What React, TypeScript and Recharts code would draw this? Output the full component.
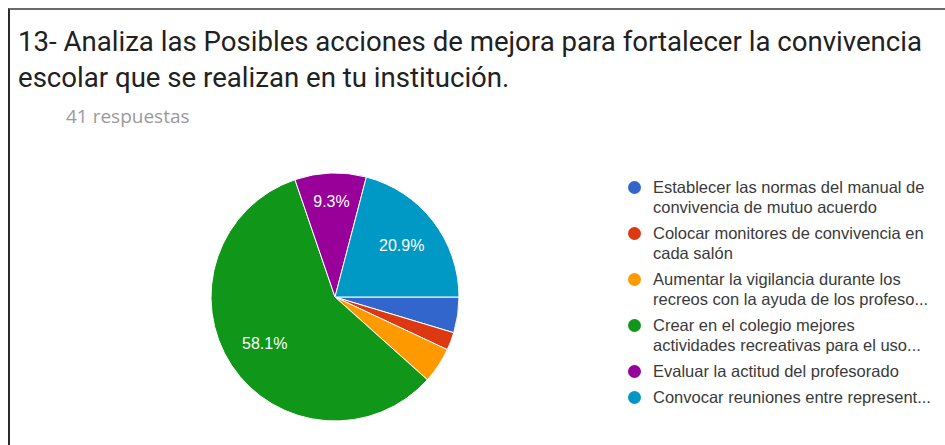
import { PieChart, Pie, Cell, Legend } from 'recharts';

const TITLE_LINES = [
  '13- Analiza las Posibles acciones de mejora para fortalecer la convivencia',
  'escolar que se realizan en tu institución.',
];
const RESPONSES = '41 respuestas';

const categories = [
  'Establecer las normas del manual de convivencia de mutuo acuerdo',
  'Colocar monitores de convivencia en cada salón',
  'Aumentar la vigilancia durante los recreos con la ayuda de los profeso...',
  'Crear en el colegio mejores actividades recreativas para el uso...',
  'Evaluar la actitud del profesorado',
  'Convocar reuniones entre represent...',
];
// legend text as shown (already wrapped/truncated)
const legendLines = [
  ['Establecer las normas del manual de', 'convivencia de mutuo acuerdo'],
  ['Colocar monitores de convivencia en', 'cada salón'],
  ['Aumentar la vigilancia durante los', 'recreos con la ayuda de los profeso...'],
  ['Crear en el colegio mejores', 'actividades recreativas para el uso...'],
  ['Evaluar la actitud del profesorado'],
  ['Convocar reuniones entre represent...'],
];
const counts = [2, 1, 2, 25, 4, 9];

const COLORS = ['#3366cc', '#dc3912', '#ff9900', '#109618', '#990099', '#0099c6'];

const data = categories.map((name, i) => ({ name, value: counts[i] }));

const RAD = Math.PI / 180;

function renderLabel(props: any) {
  const { cx, cy, midAngle, outerRadius, percent } = props;
  if (percent < 0.05) return null;
  const d = outerRadius * (percent > 0.15 ? 0.68 : 0.77);
  const x = cx + d * Math.cos(-midAngle * RAD);
  const y = cy + d * Math.sin(-midAngle * RAD);
  return (
    <text x={x} y={y} fill="#fff" textAnchor="middle" dominantBaseline="central"
      fontFamily="'Liberation Sans', Arial, sans-serif" fontSize={16}>
      {(percent * 100).toFixed(1)}%
    </text>
  );
}

function LegendBox() {
  let top = 177;
  return (
    <div style={{ position: 'relative', width: 320, height: 445 }}>
      {legendLines.map((lines, i) => {
        const y = top;
        top += lines.length * 20 + 6;
        return (
          <div key={i} style={{ position: 'absolute', left: 0, top: y }}>
            <div style={{
              position: 'absolute', left: 3, top: 3.5, width: 13, height: 13,
              borderRadius: '50%', background: COLORS[i],
            }} />
            <div style={{
              position: 'absolute', left: 28, top: 0, whiteSpace: 'nowrap',
              font: "16.5px 'Liberation Sans', Arial, sans-serif", lineHeight: '20px', color: '#3a3a3a',
            }}>
              {lines.map((l, j) => <div key={j}>{l}</div>)}
            </div>
          </div>
        );
      })}
    </div>
  );
}

export default function App() {
  return (
    <div style={{ position: 'absolute', left: 0, top: 0, width: 945, height: 445, background: '#fff', overflow: 'hidden' }}>
      <div style={{
        position: 'absolute', left: 8, top: 8, width: 945, height: 445,
        borderLeft: '2px solid #2b2b2b', borderTop: '2px solid #6a6a6a',
      }} />
      <div style={{
        position: 'absolute', left: 18, top: 23.5, font: "27.6px Roboto, sans-serif",
        lineHeight: '36px', color: '#212121', whiteSpace: 'nowrap',
      }}>
        {TITLE_LINES.map((l, i) => <div key={i}>{l}</div>)}
      </div>
      <div style={{
        position: 'absolute', left: 66, top: 105.5, font: "19px 'Open Sans', sans-serif",
        lineHeight: '20px', color: '#9a9a9a', whiteSpace: 'nowrap',
      }}>
        {RESPONSES}
      </div>
      <div style={{ position: 'absolute', left: 0, top: 0 }}>
        <PieChart width={945} height={445} margin={{ top: 0, right: 0, bottom: 0, left: 0 }}>
          <Pie
            data={data}
            dataKey="value"
            nameKey="name"
            cx={335}
            cy={297}
            outerRadius={124}
            startAngle={0}
            endAngle={-360}
            stroke="#fff"
            strokeWidth={1}
            label={renderLabel}
            labelLine={false}
            isAnimationActive={false}
          >
            {data.map((_, i) => <Cell key={i} fill={COLORS[i]} />)}
          </Pie>
          <Legend
            layout="vertical"
            align="right"
            verticalAlign="top"
            content={() => <LegendBox />}
            wrapperStyle={{ position: 'absolute', left: 625, top: 0, width: 320, height: 445 }}
          />
        </PieChart>
      </div>
    </div>
  );
}
